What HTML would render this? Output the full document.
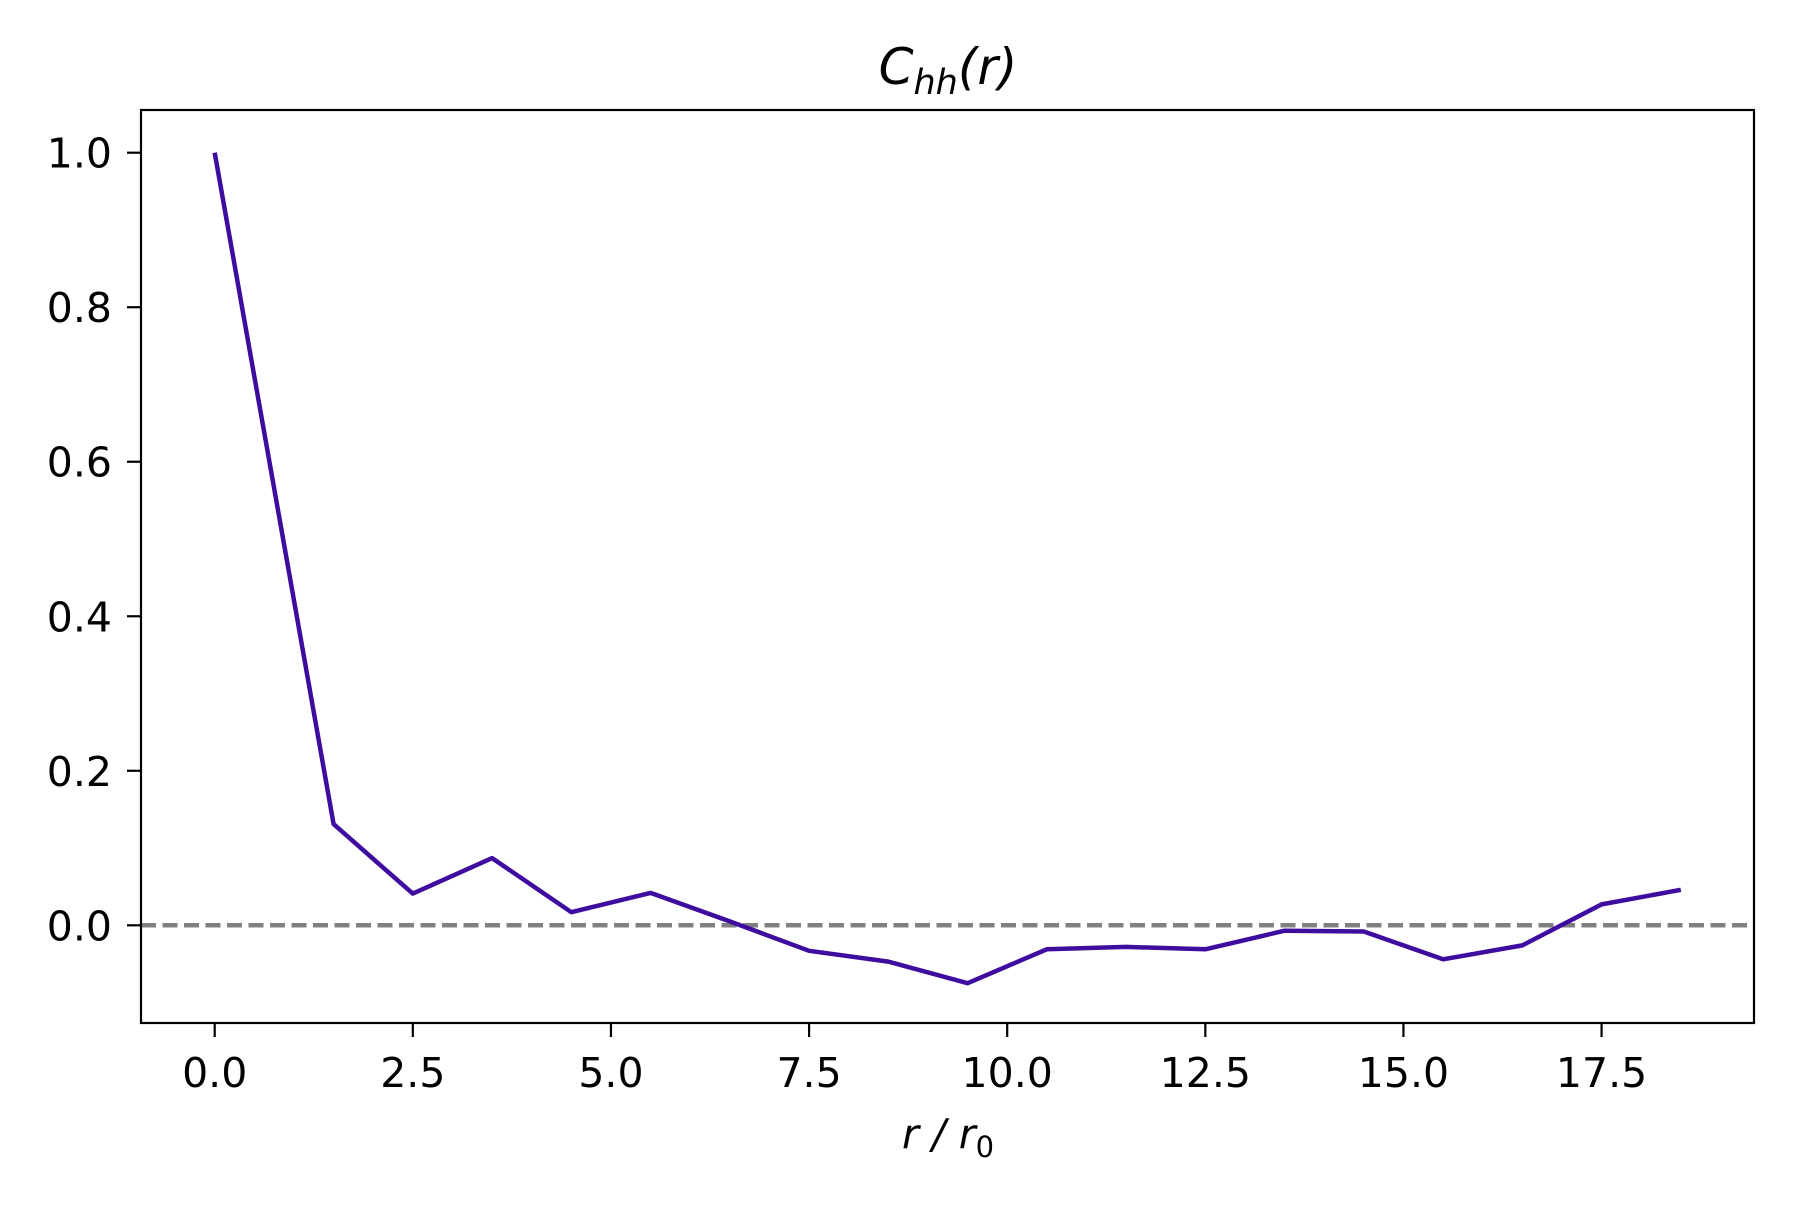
<!DOCTYPE html>
<html><head><meta charset="utf-8"><style>
body{margin:0;background:#fff;}
svg text{font-family:"DejaVu Sans","Liberation Sans",sans-serif;fill:#000;}
</style></head><body>
<svg id="chart" width="1800" height="1200" viewBox="0 0 1800 1200">
<rect x="0" y="0" width="1800" height="1200" fill="#fff"/>
<g id="plot"></g>
</svg>
<script>
const xValues = [0, 1.5, 2.5, 3.5, 4.5, 5.5, 6.5, 7.5, 8.5, 9.5, 10.5, 11.5, 12.5, 13.5, 14.5, 15.5, 16.5, 17.5, 18.5];
const yValues = [1.0, 0.131, 0.041, 0.087, 0.017, 0.042, 0.005, -0.033, -0.047, -0.075, -0.031, -0.028, -0.031, -0.007, -0.008, -0.044, -0.026, 0.027, 0.046];
const xTicks = [0, 2.5, 5, 7.5, 10, 12.5, 15, 17.5];
const xTickLabels = ["0.0","2.5","5.0","7.5","10.0","12.5","15.0","17.5"];
const yTicks = [0, 0.2, 0.4, 0.6, 0.8, 1.0];
const yTickLabels = ["0.0","0.2","0.4","0.6","0.8","1.0"];

const NS = "http://www.w3.org/2000/svg";
const L = 141, R = 1754, T = 110, B = 1023;
function sx(v){ return 214.7 + v * 79.25; }
function sy(v){ return 925.3 - v * 772.6; }
const g = document.getElementById('plot');
function mk(tag, attrs){ const e = document.createElementNS(NS, tag); for (const k in attrs) e.setAttribute(k, attrs[k]); g.appendChild(e); return e; }

const zl = mk('line', {x1:L, x2:R, y1:sy(0), y2:sy(0), stroke:'#808080', 'stroke-width':4.5, 'stroke-dasharray':'15,6.5'});



const pts = xValues.map((x,i)=> sx(x).toFixed(1)+','+sy(yValues[i]).toFixed(1)).join(' ');
const pl = mk('polyline', {points:pts, fill:'none', stroke:'#3f0ca0', 'stroke-width':4.5, 'stroke-linejoin':'round'});



const fr = mk('rect', {x:L, y:T, width:R-L, height:B-T, fill:'none', stroke:'#000', 'stroke-width':2.2});



xTicks.forEach((v,i)=>{
  const t = mk('line', {x1:sx(v), x2:sx(v), y1:B, y2:B+14, stroke:'#000', 'stroke-width':2.2});
  
  
  const tx = mk('text', {x:sx(v), y:1087, 'font-size':41, 'text-anchor':'middle'});
  tx.textContent = xTickLabels[i];
  
  
});
yTicks.forEach((v,i)=>{
  const t = mk('line', {x1:L-14, x2:L, y1:sy(v), y2:sy(v), stroke:'#000', 'stroke-width':2.2});
  
  
  const tx = mk('text', {x:112, y:sy(v)+15, 'font-size':41, 'text-anchor':'end'});
  tx.textContent = yTickLabels[i];
  
  
});
</script>
<svg width="1800" height="1200" style="position:absolute;left:0;top:0">
<text x="948" y="84" font-size="50" text-anchor="middle" font-style="italic" style="font-family:'DejaVu Sans',sans-serif">C<tspan font-size="35" dy="10">hh</tspan><tspan dy="-10">(r)</tspan></text>
<text x="948" y="1148" font-size="41" text-anchor="middle" font-style="italic" style="font-family:'DejaVu Sans',sans-serif">r / r<tspan font-size="29" dy="9" font-style="normal">0</tspan></text>
</svg>
</body></html>
